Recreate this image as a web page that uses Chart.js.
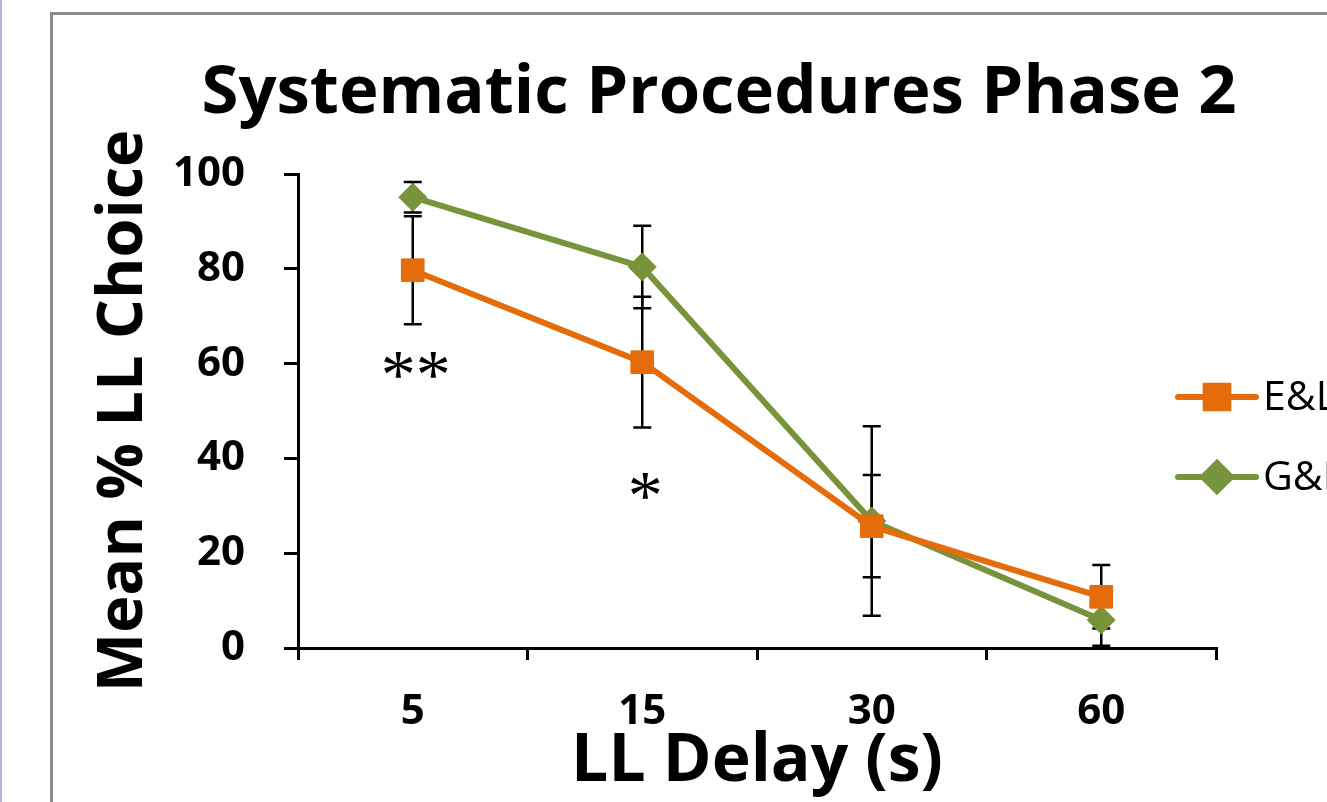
<!DOCTYPE html>
<html>
<head>
<meta charset="utf-8">
<script src="https://cdn.jsdelivr.net/npm/chart.js@4.4.1/dist/chart.umd.min.js"></script>
<style>
  html, body { margin: 0; padding: 0; background: #fff; overflow: hidden; }
  body { width: 1327px; height: 802px; position: relative; }
  .edge { position: absolute; left: 0; top: 0; width: 2px; height: 802px; background: #bfb1dc; }
  .frame { position: absolute; left: 50px; top: 12px; width: 1400px; height: 900px;
           border: 3px solid #8c8c8c; box-sizing: border-box; }
  #wrap { position: absolute; left: 0; top: 0; width: 1327px; height: 802px; }
</style>
</head>
<body>
<div class="edge"></div>
<div class="frame"></div>
<div id="wrap"><canvas id="chart"></canvas></div>
<script>
/* ---------- data ---------- */
const TITLE = 'Systematic Procedures Phase 2';
const X_TITLE = 'LL Delay (s)';
const Y_TITLE = 'Mean % LL Choice';

const delays = ['5', '15', '30', '60'];
const seriesNames = ['E&L', 'G&L'];
const meanEL = [79.7, 60.3, 25.7, 10.8];
const meanGL = [95.1, 80.4, 26.8, 5.9];
const errEL = [11.4, 13.8, 10.8, 6.7];
const errGL = [3.2, 8.7, 20.0, 5.4];
const yTicks = [0, 20, 40, 60, 80, 100];

// significance marks: which delay, at what height, what text
const starDelays = ['5', '15'];
const starValues = [59.3, 33.8];
const starTexts = ['**', '*'];

/* ---------- styling ---------- */
const ORANGE = '#E46C0A';
const GREEN = '#77933C';
const FONT = '"Open Sans", Lato, sans-serif';

Chart.defaults.font.family = FONT;
Chart.defaults.color = '#000';

const errs = [errEL, errGL];

/* Error bars go under the lines and markers */
const errorBars = {
  id: 'errorBars',
  beforeDatasetsDraw(chart) {
    const { ctx, scales: { x, y } } = chart;
    ctx.save();
    ctx.strokeStyle = '#000';
    ctx.lineWidth = 2.5;
    chart.data.datasets.forEach((ds, d) => {
      ds.data.forEach((v, i) => {
        const px = x.getPixelForValue(i);
        const hi = y.getPixelForValue(v + errs[d][i]);
        const lo = y.getPixelForValue(Math.max(0, v - errs[d][i]));
        ctx.beginPath();
        ctx.moveTo(px, hi); ctx.lineTo(px, lo);
        ctx.moveTo(px - 9, hi); ctx.lineTo(px + 9, hi);
        ctx.moveTo(px - 9, lo); ctx.lineTo(px + 9, lo);
        ctx.stroke();
      });
    });
    ctx.restore();
  }
};

/* Asterisks for significant differences */
const stars = {
  id: 'stars',
  afterDatasetsDraw(chart) {
    const { ctx, scales: { x, y } } = chart;
    const size = 70;
    ctx.save();
    ctx.font = size + 'px "Liberation Serif", serif';
    ctx.fillStyle = '#000';
    ctx.textAlign = 'center';
    ctx.textBaseline = 'alphabetic';
    starTexts.forEach((t, i) => {
      const px = x.getPixelForValue(delays.indexOf(starDelays[i])) + 3;
      const py = y.getPixelForValue(starValues[i]);
      ctx.fillText(t, px, py + size * 0.45);
    });
    ctx.restore();
  }
};

/* Title is centred on the whole figure, not on the plot area */
const chartTitle = {
  id: 'chartTitle',
  afterDraw(chart) {
    const { ctx } = chart;
    ctx.save();
    ctx.font = 'bold 67px ' + FONT;
    ctx.fillStyle = '#000';
    ctx.textAlign = 'center';
    ctx.textBaseline = 'alphabetic';
    ctx.fillText(TITLE, 719, 113);
    ctx.restore();
  }
};

/* Excel-style legend that overlaps the plot's right edge (clipped by the figure) */
const sideLegend = {
  id: 'sideLegend',
  afterDraw(chart) {
    const { ctx, chartArea } = chart;
    const x0 = chartArea.right - 38;
    ctx.save();
    chart.data.datasets.forEach((ds, i) => {
      const cy = 397 + i * 80;
      ctx.strokeStyle = ds.borderColor;
      ctx.lineWidth = 6;
      ctx.lineCap = 'round';
      ctx.beginPath();
      ctx.moveTo(x0, cy); ctx.lineTo(x0 + 78, cy);
      ctx.stroke();
      ctx.fillStyle = ds.pointBackgroundColor;
      ctx.strokeStyle = ds.pointBorderColor;
      Chart.helpers.drawPoint(ctx, {
        pointStyle: ds.pointStyle, radius: ds.pointRadius, borderWidth: 1, rotation: 0
      }, x0 + 39, cy);
      ctx.fillStyle = '#000';
      ctx.font = '41px ' + FONT;
      ctx.textAlign = 'left';
      ctx.textBaseline = 'middle';
      ctx.fillText(ds.label, x0 + 85, cy + 1);
    });
    ctx.restore();
  }
};

function build() {
  new Chart(document.getElementById('chart'), {
    type: 'line',
    data: {
      labels: delays,
      datasets: [
        {
          label: seriesNames[0], data: meanEL,
          borderColor: ORANGE, backgroundColor: ORANGE, borderWidth: 6,
          pointStyle: 'rect', pointRadius: 16,
          pointBackgroundColor: ORANGE, pointBorderColor: ORANGE, pointBorderWidth: 1,
          tension: 0
        },
        {
          label: seriesNames[1], data: meanGL,
          borderColor: GREEN, backgroundColor: GREEN, borderWidth: 6,
          pointStyle: 'rectRot', pointRadius: 14,
          pointBackgroundColor: GREEN, pointBorderColor: GREEN, pointBorderWidth: 1,
          tension: 0
        }
      ]
    },
    options: {
      responsive: true,
      maintainAspectRatio: false,
      animation: false,
      layout: { padding: { top: 174, right: 111, left: 0, bottom: 0 } },
      plugins: {
        legend: { display: false },
        title: { display: false },
        tooltip: { enabled: false }
      },
      scales: {
        x: {
          offset: true,
          grid: { offset: true, drawOnChartArea: false, drawTicks: true, tickLength: 12, color: '#000', lineWidth: 3 },
          border: { display: true, color: '#000', width: 3 },
          ticks: { font: { size: 42, weight: 'bold' }, padding: 27, color: '#000' },
          title: { display: true, text: X_TITLE, font: { size: 66, weight: 'bold' }, padding: 0, color: '#000' },
          afterFit(s) { s.height = 154; }
        },
        y: {
          min: yTicks[0],
          max: yTicks[yTicks.length - 1],
          grid: { drawOnChartArea: false, drawTicks: true, tickLength: 14, color: '#000', lineWidth: 3 },
          border: { display: true, color: '#000', width: 3 },
          ticks: { stepSize: yTicks[1] - yTicks[0], font: { size: 42, weight: 'bold' }, padding: 39, color: '#000' },
          title: { display: true, text: Y_TITLE, font: { size: 63, weight: 'bold' }, padding: { top: 86, bottom: 0 }, color: '#000' },
          afterFit(s) { s.width = 298; }
        }
      }
    },
    plugins: [errorBars, stars, chartTitle, sideLegend]
  });
}

Promise.all([
  document.fonts.load('bold 40px "Open Sans"'),
  document.fonts.load('40px "Open Sans"'),
  document.fonts.load('40px "Liberation Serif"')
]).then(build, build);
</script>
</body>
</html>
